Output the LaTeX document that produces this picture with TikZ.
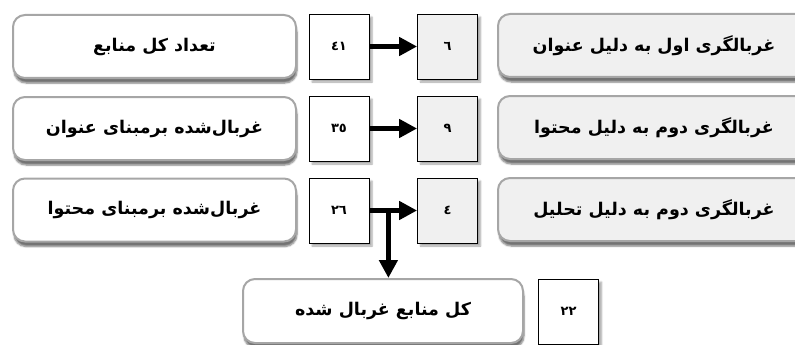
\documentclass[tikz,border=0pt]{standalone}
\usepackage{fontspec}
\usetikzlibrary{arrows.meta,shadows.blur,calc}
\newfontfamily\arabicfont[Script=Arabic]{DejaVu Sans}
\TeXXeTstate=1
\definecolor{rborder}{HTML}{A6A6A6}
\definecolor{grayfill}{HTML}{F0F0F0}
\tikzset{
  roundbox/.style={draw=rborder, line width=2pt, rounded corners=12pt, fill=white,
    minimum width=283pt, minimum height=63pt, inner sep=0pt,
    font=\arabicfont\bfseries\fontsize{17.5}{20}\selectfont,
    blur shadow={shadow xshift=1pt, shadow yshift=-5pt, shadow blur steps=6, shadow opacity=55}},
  graybox/.style={roundbox, fill=grayfill},
  numbox/.style={draw=black, line width=0.8pt, fill=white,
    minimum width=60pt, minimum height=65pt, inner sep=0pt,
    font=\arabicfont\bfseries\fontsize{13}{15}\selectfont,
    blur shadow={shadow xshift=3pt, shadow yshift=-3pt, shadow blur steps=6, shadow opacity=35}},
  numgray/.style={numbox, fill=grayfill},
  flow/.style={line width=5.5pt, -{Triangle[length=18pt,width=18pt]}},
}
\begin{document}
\begin{tikzpicture}[x=1pt,y=-1pt]
\useasboundingbox (0,0) rectangle (795,345);
\clip (0,0) rectangle (795,345);
% left rounded boxes
\node[roundbox] (l1) at (154.5,46.5) {\beginR تعداد کل منابع\endR};
\node[roundbox] (l2) at (154.5,128.5) {\beginR غربال‌شده برمبنای عنوان\endR};
\node[roundbox] (l3) at (154.5,210) {\beginR غربال‌شده برمبنای محتوا\endR};
% left number boxes
\node[numbox] (n1) at (339,46.5) {\beginR ٤١\endR};
\node[numbox] (n2) at (339,128.5) {\beginR ٣٥\endR};
\node[numbox] (n3) at (339,210.5) {\beginR ٢٦\endR};
% right number boxes
\node[numgray] (m1) at (447.5,46.5) {\beginR ٦\endR};
\node[numgray] (m2) at (447.5,128.5) {\beginR ٩\endR};
\node[numgray] (m3) at (447.5,210.5) {\beginR ٤\endR};
% right rounded boxes
\node[graybox, minimum width=312pt] (r1) at (654,45.5) {\beginR غربالگری اول به دلیل عنوان\endR};
\node[graybox, minimum width=312pt] (r2) at (654,127.5) {\beginR غربالگری دوم به دلیل محتوا\endR};
\node[graybox, minimum width=312pt] (r3) at (654,209.5) {\beginR غربالگری دوم به دلیل تحلیل\endR};
% bottom
\node[roundbox, minimum width=280pt, minimum height=64pt] (b) at (383,311) {\beginR کل منابع غربال شده\endR};
\node[numbox] (t) at (568.5,311.5) {\beginR ٢٢\endR};
% connectors
\draw[flow] (n1.east) -- (m1.west);
\draw[flow] (n2.east) -- (m2.west);
\draw[flow] (n3.east) -- (m3.west);
\coordinate (j) at ($(n3.east)+(19,0)$);
\draw[flow] (j) -- (j |- b.north);
\end{tikzpicture}
\end{document}
